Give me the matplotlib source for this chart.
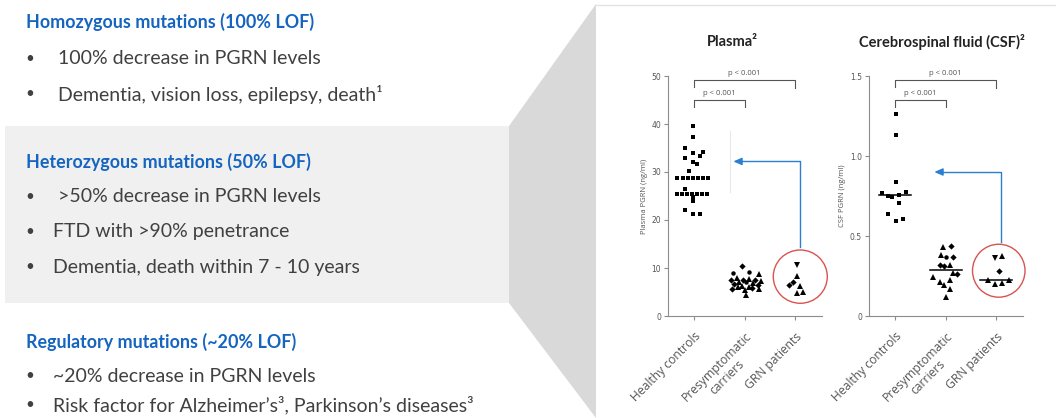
import numpy as np
import matplotlib.pyplot as plt
import matplotlib.transforms as mtransforms
from matplotlib.patches import Polygon, Rectangle, Ellipse

W, H = 1056, 418

categories = ["Healthy controls", "Presymptomatic\ncarriers", "GRN patients"]

# ---- plasma PGRN (ng/ml) ----
plasma_healthy = [39.6, 37.2, 34.9, 34.0, 34.2, 33.3, 33.0, 32.1, 31.7, 30.3,
                  28.8, 28.8, 28.8, 28.8, 28.8, 28.8, 28.8, 26.4,
                  25.5, 25.5, 25.5, 25.5, 25.5, 25.5, 25.5,
                  24.7, 23.9, 22.1, 21.3, 21.3]
plasma_healthy_dx = [-0.02, -0.02, -0.18, -0.02, 0.18, 0.12, -0.18, -0.02, 0.06, -0.10,
                     -0.34, -0.22, -0.12, -0.02, 0.08, 0.18, 0.28, -0.18,
                     -0.34, -0.24, -0.14, -0.04, 0.06, 0.16, 0.26,
                     -0.02, -0.02, -0.18, -0.02, 0.12]

plasma_carriers = [10.4, 8.9, 9.1, 8.7, 7.9, 7.6, 7.8, 7.5, 7.4, 7.3, 7.0, 7.1,
                   6.9, 6.6, 6.5, 6.3, 6.1, 5.7, 6.0, 5.5, 5.8, 5.7, 4.3]
plasma_carriers_dx = [-0.06, -0.24, 0.08, 0.28, -0.16, -0.04, 0.08, 0.20, -0.28, 0.32, -0.12, 0.02,
                      0.16, -0.22, 0.26, -0.06, 0.08, -0.26, -0.14, 0.00, 0.14, 0.28, 0.02]
plasma_carriers_mk = ["D", "o", "o", "^", "^", "D", "^", "D", "D", "^", "^", "o",
                      "^", "D", "D", "^", "^", "D", "^", "^", "D", "^", "^"]

plasma_patients = [10.6, 8.4, 7.1, 6.4, 6.2, 4.8, 5.0]
plasma_patients_dx = [0.04, 0.04, -0.04, -0.12, 0.10, 0.04, 0.16]
plasma_patients_mk = ["v", "^", "D", "D", "^", "^", "^"]

# ---- CSF PGRN (ng/ml) ----
csf_healthy = [1.26, 1.13, 0.835, 0.767, 0.752, 0.742, 0.756, 0.773, 0.704, 0.636, 0.594, 0.606]
csf_healthy_dx = [0.01, 0.01, 0.01, -0.27, -0.14, -0.06, 0.08, 0.22, 0.08, -0.14, 0.01, 0.16]

csf_carriers = [0.433, 0.44, 0.38, 0.367, 0.369, 0.316, 0.314, 0.317,
                0.267, 0.26, 0.246, 0.215, 0.195, 0.225, 0.167, 0.117]
csf_carriers_dx = [-0.06, 0.10, -0.10, 0.01, 0.14, -0.12, -0.04, 0.09,
                   0.15, 0.22, -0.25, -0.12, -0.04, 0.08, 0.09, 0.01]
csf_carriers_mk = ["^", "D", "^", "o", "D", "D", "D", "^",
                   "^", "D", "^", "^", "^", "^", "^", "^"]

csf_patients = [0.362, 0.375, 0.28, 0.227, 0.2, 0.204, 0.227]
csf_patients_dx = [-0.03, 0.12, 0.06, -0.16, -0.03, 0.12, 0.25]
csf_patients_mk = ["v", "^", "D", "^", "^", "^", "^"]

BLUE_HEAD = "#1565C0"
BODY = "#404040"
AXIS_GREY = "#8c8c8c"
ARROW_BLUE = "#2b7fd3"
CIRCLE_RED = "#d9534f"
SANS = ["Lato", "DejaVu Sans"]

fig = plt.figure(figsize=(W / 100, H / 100), dpi=100)

# background layer in pixel coordinates
bg = fig.add_axes([0, 0, 1, 1], zorder=0)
bg.set_xlim(0, W)
bg.set_ylim(H, 0)
bg.axis("off")
bg.add_patch(Rectangle((5, 126), 505, 177, color="#f0f0f0", lw=0))
bg.add_patch(Polygon([(509, 126), (596, 4), (596, 418), (509, 303)], closed=True,
                     color="#d9d9d9", lw=0))
bg.plot([596, W], [4.5, 4.5], color="#e3e3e3", lw=1)

# left hand text
blocks = [
    (22, "Homozygous mutations (100% LOF)",
     [(59, 58, "100% decrease in PGRN levels"),
      (94, 58, "Dementia, vision loss, epilepsy, death\u00b9")]),
    (162, "Heterozygous mutations (50% LOF)",
     [(197, 58, ">50% decrease in PGRN levels"),
      (232, 53, "FTD with >90% penetrance"),
      (267, 53, "Dementia, death within 7 - 10 years")]),
    (342, "Regulatory mutations (~20% LOF)",
     [(376, 53, "~20% decrease in PGRN levels"),
      (405, 53, "Risk factor for Alzheimer\u2019s\u00b3, Parkinson\u2019s diseases\u00b3")]),
]
for ty, title, bullets in blocks:
    bg.text(26, ty, title, color=BLUE_HEAD, fontsize=12.9, fontweight="bold",
            family=SANS, va="center", ha="left")
    for by, bx, txt in bullets:
        bg.text(30, by, "\u2022", color=BODY, fontsize=11, family=SANS, va="center", ha="center")
        bg.text(bx, by, txt, color=BODY, fontsize=14, family=SANS, va="center", ha="left")

bg.text(732, 42, "Plasma\u00b2", fontsize=10.5, fontweight="bold", family=SANS,
        color="#222222", ha="center", va="center")
bg.text(942, 42, "Cerebrospinal fluid (CSF)\u00b2", fontsize=10.5, fontweight="bold",
        family=SANS, color="#222222", ha="center", va="center")
bg.text(645, 196, "Plasma PGRN (ng/ml)", rotation=90, fontsize=5.5, color="#555555",
        family="Open Sans", ha="center", va="center")
bg.text(843, 196, "CSF PGRN (ng/ml)", rotation=90, fontsize=5.5, color="#555555",
        family="Open Sans", ha="center", va="center")


def dot_panel(rect, groups, ymax, yticks, ytick_labels, arrow_y, arrow_base,
              circle_xy, circle_wh, medians):
    ax = fig.add_axes(rect, zorder=2)
    ax.set_facecolor("none")
    for i, (vals, dx, mks) in enumerate(groups):
        for v, d, m in zip(vals, dx, mks):
            ms = 3.4 if m == "s" else (4.4 if m in "^v" else 3.2)
            ax.plot(i + 1 + d, v, marker=m, color="black", ms=ms, mew=0, ls="none")
        if medians:
            med = np.median(vals)
            ax.plot([i + 1 - 0.32, i + 1 + 0.32], [med, med], color="black", lw=1.1)
    ax.set_xlim(0.48, 3.53)
    ax.set_ylim(0, ymax)
    ax.set_yticks(yticks)
    ax.set_yticklabels(ytick_labels)
    ax.set_xticks([1, 2, 3])
    ax.set_xticklabels(categories, rotation=45, ha="right", rotation_mode="anchor",
                       multialignment="center", family="Open Sans", fontsize=8.7, color="#555555")
    for s in ["top", "right"]:
        ax.spines[s].set_visible(False)
    for s in ["left", "bottom"]:
        ax.spines[s].set_color(AXIS_GREY)
        ax.spines[s].set_linewidth(0.8)
    ax.tick_params(axis="y", length=3, width=0.8, color=AXIS_GREY, labelsize=5.5,
                   labelcolor="#555555", pad=2)
    ax.tick_params(axis="x", length=3, width=0.8, color=AXIS_GREY, pad=7)

    # significance brackets
    tr = mtransforms.blended_transform_factory(ax.transData, ax.transAxes)
    ax.plot([1, 1, 3, 3], [0.954, 0.983, 0.983, 0.95], color="#555555", lw=0.8,
            transform=tr, clip_on=False)
    ax.plot([1, 1, 2, 2], [0.871, 0.9, 0.9, 0.871], color="#555555", lw=0.8,
            transform=tr, clip_on=False)
    ax.text(2, 1.012, "p < 0.001", transform=tr, fontsize=5.5, color="#555555",
            ha="center", va="center", family="Open Sans")
    ax.text(1.5, 0.929, "p < 0.001", transform=tr, fontsize=5.5, color="#555555",
            ha="center", va="center", family="Open Sans")

    # blue arrow from patients back to controls level
    ax.plot([3.1, 3.1, 1.85], [arrow_base, arrow_y, arrow_y], color=ARROW_BLUE, lw=1.0,
            clip_on=False)
    ax.annotate("", xy=(1.72, arrow_y), xytext=(1.9, arrow_y),
                arrowprops=dict(arrowstyle="-|>,head_length=0.5,head_width=0.22",
                                color=ARROW_BLUE, lw=1.0))

    ax.add_patch(Ellipse(circle_xy, circle_wh[0], circle_wh[1], fill=False,
                         edgecolor=CIRCLE_RED, lw=1.0, clip_on=False))
    return ax


ax1 = dot_panel([668 / W, 1 - 316 / H, 154 / W, 240 / H],
                [(plasma_healthy, plasma_healthy_dx, ["s"] * len(plasma_healthy)),
                 (plasma_carriers, plasma_carriers_dx, plasma_carriers_mk),
                 (plasma_patients, plasma_patients_dx, plasma_patients_mk)],
                50, [0, 10, 20, 30, 40, 50], ["0", "10", "20", "30", "40", "50"],
                32.2, 14.4, (3.1, 8.2), (1.07, 11.1), False)
# faint scan artefact line next to the controls column
ax1.plot([1.7, 1.7], [25.8, 38.5], color="#e8e8e8", lw=0.8)

ax2 = dot_panel([869 / W, 1 - 316 / H, 154 / W, 240 / H],
                [(csf_healthy, csf_healthy_dx, ["s"] * len(csf_healthy)),
                 (csf_carriers, csf_carriers_dx, csf_carriers_mk),
                 (csf_patients, csf_patients_dx, csf_patients_mk)],
                1.5, [0, 0.5, 1.0, 1.5], ["0", "0.5", "1.0", "1.5"],
                0.9, 0.4625, (3.05, 0.283), (1.04, 0.331), True)

fig.savefig("out.png", dpi=100)
